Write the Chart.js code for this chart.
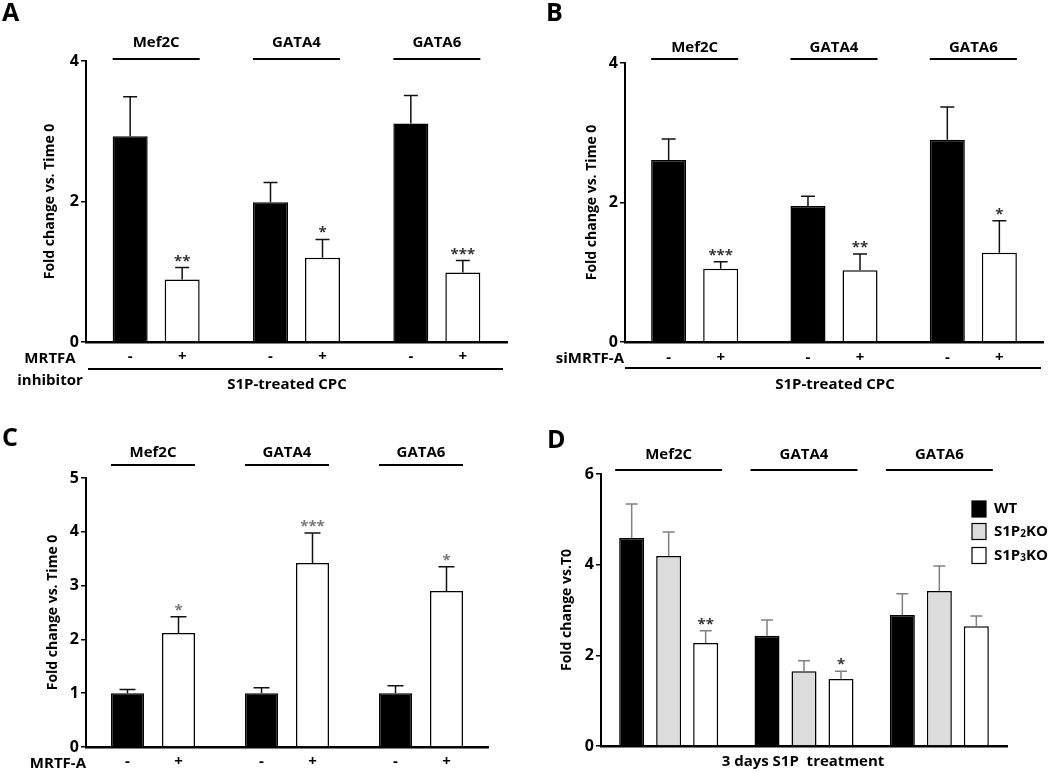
<!DOCTYPE html>
<html>
<head>
<meta charset="utf-8">
<script src="https://cdn.jsdelivr.net/npm/chart.js@4.4.1/dist/chart.umd.min.js"></script>
<style>
  body { margin: 0; background: #fff; }
  #wrap { position: relative; width: 1050px; height: 772px; }
  canvas { position: absolute; }
</style>
</head>
<body>
<div id="wrap">
  <canvas id="chartA" width="525" height="400" style="left:0;top:0"></canvas>
  <canvas id="chartB" width="525" height="400" style="left:525px;top:0"></canvas>
  <canvas id="chartC" width="525" height="372" style="left:0;top:400px"></canvas>
  <canvas id="chartD" width="525" height="372" style="left:525px;top:400px"></canvas>
</div>
<script>
const genes = ["Mef2C", "GATA4", "GATA6"];

// panel A: MRTFA inhibitor
const aCtrl = [2.93, 1.99, 3.11];
const aCtrlErr = [0.56, 0.28, 0.40];
const aInh = [0.89, 1.20, 0.99];
const aInhErr = [0.17, 0.26, 0.17];
const aStars = ["**", "*", "***"];

// panel B: siMRTF-A
const bCtrl = [2.61, 1.95, 2.90];
const bCtrlErr = [0.30, 0.14, 0.47];
const bSi = [1.05, 1.03, 1.28];
const bSiErr = [0.10, 0.23, 0.46];
const bStars = ["***", "**", "*"];

// panel C: MRTF-A overexpression
const cCtrl = [1.0, 1.0, 1.0];
const cCtrlErr = [0.07, 0.10, 0.14];
const cMrtf = [2.12, 3.42, 2.90];
const cMrtfErr = [0.30, 0.56, 0.45];
const cStars = ["*", "***", "*"];

// panel D: knockouts
const dWT = [4.59, 2.43, 2.89];
const dWTErr = [0.75, 0.35, 0.47];
const dS1P2 = [4.19, 1.65, 3.42];
const dS1P2Err = [0.53, 0.23, 0.55];
const dS1P3 = [2.27, 1.48, 2.64];
const dS1P3Err = [0.27, 0.17, 0.23];
const dStars = ["**", "*", ""];

const FONT = "'Open Sans', 'DejaVu Sans', sans-serif";
Chart.defaults.font.family = FONT;
Chart.defaults.color = "#000";

const annot = {
  id: "annot",
  afterDatasetsDraw(chart, args, o) {
    const ctx = chart.ctx, y = chart.scales.y;
    const sets = chart.data.datasets;
    ctx.save();
    sets.forEach((ds, di) => {
      const meta = chart.getDatasetMeta(di);
      meta.data.forEach((bar, i) => {
        const top = y.getPixelForValue(ds.data[i] + ds.errors[i]);
        ctx.strokeStyle = o.errColor;
        ctx.lineWidth = 1.5;
        ctx.beginPath();
        ctx.moveTo(bar.x, bar.y);
        ctx.lineTo(bar.x, top);
        ctx.moveTo(bar.x - o.cap, top);
        ctx.lineTo(bar.x + o.cap, top);
        ctx.stroke();
        ctx.textAlign = "center";
        if (ds.stars && ds.stars[i]) {
          ctx.fillStyle = o.starColor;
          ctx.font = "bold 15px " + FONT;
          ctx.textBaseline = "alphabetic";
          ctx.fillText(ds.stars[i], bar.x, top - 2);
        }
        if (o.signs) {
          ctx.fillStyle = "#000";
          ctx.font = "bold 15px " + FONT;
          ctx.textBaseline = "middle";
          ctx.fillText(o.signs[di], bar.x, o.signY);
        }
      });
    });
    // gene headers
    const first = chart.getDatasetMeta(0).data;
    const last = chart.getDatasetMeta(sets.length - 1).data;
    genes.forEach((g, i) => {
      const x0 = first[i].x - first[i].width / 2 - o.lineExtra;
      const x1 = last[i].x + last[i].width / 2 + o.lineExtra;
      ctx.strokeStyle = "#000";
      ctx.lineWidth = 2;
      ctx.beginPath();
      ctx.moveTo(x0, o.lineY);
      ctx.lineTo(x1, o.lineY);
      ctx.stroke();
      ctx.fillStyle = "#000";
      ctx.font = "bold 15px " + FONT;
      ctx.textAlign = "center";
      ctx.textBaseline = "middle";
      ctx.fillText(g, (x0 + x1) / 2, o.geneY);
    });
    // panel letter
    ctx.font = "bold 25px " + FONT;
    ctx.textAlign = "left";
    ctx.textBaseline = "middle";
    ctx.fillText(o.letter[0], o.letter[1], o.letter[2]);
    if (o.extra) o.extra(chart, ctx);
    ctx.restore();
  }
};

function text(ctx, s, x, y, align) {
  ctx.fillStyle = "#000";
  ctx.font = "bold 15px " + FONT;
  ctx.textAlign = align || "center";
  ctx.textBaseline = "middle";
  ctx.fillText(s, x, y);
}

function makePanel(id, p) {
  const ctx = document.getElementById(id).getContext("2d");
  return new Chart(ctx, {
    type: "bar",
    data: { labels: genes, datasets: p.datasets },
    options: {
      responsive: false,
      animation: false,
      categoryPercentage: p.cat,
      barPercentage: p.bar,
      layout: { padding: p.pad },
      plugins: { legend: { display: false }, tooltip: { enabled: false }, annot: p.annot },
      scales: {
        x: {
          ticks: { display: false },
          grid: { display: false },
          border: { display: true, color: "#000", width: 2.5 },
          afterFit: (s) => { s.height = 2; }
        },
        y: {
          min: 0,
          max: p.yMax,
          ticks: { stepSize: p.step, font: { size: 16, weight: "bold" }, color: "#000", padding: 2 },
          grid: { display: true, drawOnChartArea: false, drawTicks: true, tickLength: 5, color: "#000", lineWidth: 1.5 },
          border: { display: true, color: "#000", width: 2 },
          title: { display: true, text: p.yTitle, font: { size: 14, weight: "bold" }, color: "#000", padding: { top: 4, bottom: 4 } },
          afterFit: (s) => { s.width = p.yWidth; }
        }
      }
    },
    plugins: [annot]
  });
}

const blackBar = { backgroundColor: "#000", borderColor: "#000", borderWidth: 1.5 };
const whiteBar = { backgroundColor: "#fff", borderColor: "#000", borderWidth: 1.5 };
const greyBar = { backgroundColor: "#dcdcdc", borderColor: "#000", borderWidth: 1.5 };

makePanel("chartA", {
  datasets: [
    Object.assign({ label: "-", data: aCtrl, errors: aCtrlErr }, blackBar),
    Object.assign({ label: "+", data: aInh, errors: aInhErr, stars: aStars }, whiteBar)
  ],
  cat: 0.741, bar: 0.673,
  pad: { left: 38, right: 18, top: 61, bottom: 56 },
  yWidth: 48, yMax: 4, step: 2, yTitle: "Fold change vs. Time 0",
  annot: {
    errColor: "#111", starColor: "#333", cap: 7, signs: ["-", "+"], signY: 357,
    lineY: 59, geneY: 43, lineExtra: 0, letter: ["A", 2, 14],
    extra: (chart, ctx) => {
      text(ctx, "MRTFA", 50, 359);
      text(ctx, "inhibitor", 50, 381);
      ctx.strokeStyle = "#000"; ctx.lineWidth = 2;
      ctx.beginPath(); ctx.moveTo(88, 369); ctx.lineTo(503, 369); ctx.stroke();
      text(ctx, "S1P-treated CPC", 287, 385);
    }
  }
});

makePanel("chartB", {
  datasets: [
    Object.assign({ label: "-", data: bCtrl, errors: bCtrlErr }, blackBar),
    Object.assign({ label: "+", data: bSi, errors: bSiErr, stars: bStars }, whiteBar)
  ],
  cat: 0.747, bar: 0.673,
  pad: { left: 55, right: 7, top: 63, bottom: 56 },
  yWidth: 45, yMax: 4, step: 2, yTitle: "Fold change vs. Time 0",
  annot: {
    errColor: "#111", starColor: "#333", cap: 7, signs: ["-", "+"], signY: 358,
    lineY: 59, geneY: 48, lineExtra: 0, letter: ["B", 21, 14],
    extra: (chart, ctx) => {
      text(ctx, "siMRTF-A", 99, 359, "right");
      ctx.strokeStyle = "#000"; ctx.lineWidth = 2;
      ctx.beginPath(); ctx.moveTo(100, 368); ctx.lineTo(516, 368); ctx.stroke();
      text(ctx, "S1P-treated CPC", 310, 385);
    }
  }
});

makePanel("chartC", {
  datasets: [
    Object.assign({ label: "-", data: cCtrl, errors: cCtrlErr }, blackBar),
    Object.assign({ label: "+", data: cMrtf, errors: cMrtfErr, stars: cStars }, whiteBar)
  ],
  cat: 0.761, bar: 0.647,
  pad: { left: 41, right: 37, top: 78, bottom: 23 },
  yWidth: 45, yMax: 5, step: 1, yTitle: "Fold change vs. Time 0",
  annot: {
    errColor: "#111", starColor: "#777", cap: 8, signs: ["-", "+"], signY: 362,
    lineY: 65, geneY: 53, lineExtra: 0, letter: ["C", 2, 39],
    extra: (chart, ctx) => {
      text(ctx, "MRTF-A", 86, 364, "right");
    }
  }
});

makePanel("chartD", {
  datasets: [
    Object.assign({ label: "WT", data: dWT, errors: dWTErr }, blackBar),
    Object.assign({ label: "S1P2KO", data: dS1P2, errors: dS1P2Err }, greyBar),
    Object.assign({ label: "S1P3KO", data: dS1P3, errors: dS1P3Err, stars: dStars }, whiteBar)
  ],
  cat: 0.82, bar: 0.676,
  pad: { left: 30, right: 43, top: 74, bottom: 24 },
  yWidth: 46, yMax: 6, step: 2, yTitle: "Fold change vs.T0",
  annot: {
    errColor: "#808080", starColor: "#333", cap: 6,
    lineY: 70, geneY: 55, lineExtra: 4, letter: ["D", 22, 41],
    extra: (chart, ctx) => {
      text(ctx, "3 days S1P  treatment", 278, 362);
      const rows = [109, 131.5, 155.5];
      const subs = [null, "2", "3"];
      chart.data.datasets.forEach((ds, i) => {
        ctx.fillStyle = ds.backgroundColor;
        ctx.fillRect(447, rows[i] - 8, 14, 16);
        ctx.strokeStyle = "#000"; ctx.lineWidth = 1.2;
        ctx.strokeRect(447, rows[i] - 8, 14, 16);
        ctx.fillStyle = "#000";
        ctx.textAlign = "left"; ctx.textBaseline = "middle";
        ctx.font = "bold 15px " + FONT;
        if (!subs[i]) {
          ctx.fillText(ds.label, 469, rows[i]);
        } else {
          let x = 469;
          ctx.fillText("S1P", x, rows[i]);
          x += ctx.measureText("S1P").width;
          ctx.font = "bold 10px " + FONT;
          ctx.fillText(subs[i], x, rows[i] + 3);
          x += ctx.measureText(subs[i]).width;
          ctx.font = "bold 15px " + FONT;
          ctx.fillText("KO", x, rows[i]);
        }
      });
    }
  }
});
</script>
</body>
</html>
